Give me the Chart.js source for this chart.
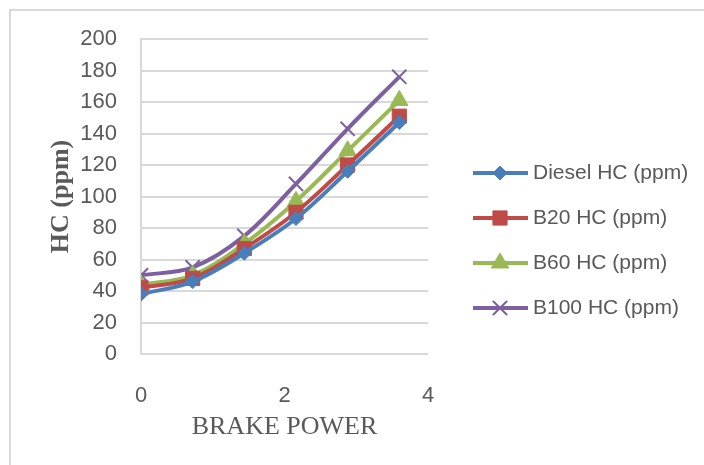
<!DOCTYPE html>
<html>
<head>
<meta charset="utf-8">
<script src="https://cdn.jsdelivr.net/npm/chart.js@4/dist/chart.umd.min.js"></script>
<style>
  html, body { margin: 0; padding: 0; background: #fff; }
  .wrap { position: relative; width: 704px; height: 465px; }
  .frame { position: absolute; left: 9px; top: 9px; right: -10px; bottom: -10px;
           border-left: 2px solid #d9d9d9; border-top: 2px solid #d9d9d9; }
  canvas { position: absolute; left: 0; top: 0; }
</style>
</head>
<body>
<div class="wrap">
  <div class="frame"></div>
  <canvas id="chart" width="704" height="465"></canvas>
</div>
<script>
const brakePower = [0, 0.72, 1.44, 2.16, 2.88, 3.6];
const dieselHC = [38, 46, 64, 86, 116, 147];
const b20HC = [42, 48, 67, 90, 120, 151];
const b60HC = [44, 50, 70, 97, 129, 161];
const b100HC = [50, 55, 75, 108, 143, 176];

const xTicks = [0, 2, 4];
const yMax = 200;

const gray = "#595959";
const tickFont = { family: "'Liberation Sans', Arial, sans-serif", size: 22 };

const seriesDefs = [
  { label: "Diesel HC (ppm)", data: dieselHC, color: "#4a7ebb", point: "rectRot", radius: 7 },
  { label: "B20 HC (ppm)", data: b20HC, color: "#be4b48", point: "rect", radius: 10 },
  { label: "B60 HC (ppm)", data: b60HC, color: "#98b954", point: "triangle", radius: 10 },
  { label: "B100 HC (ppm)", data: b100HC, color: "#7d60a0", point: "crossRot", radius: 10 }
];

const datasets = seriesDefs.map(s => ({
  label: s.label,
  data: s.data.map((v, i) => ({ x: brakePower[i], y: v })),
  borderColor: s.color,
  backgroundColor: s.color,
  borderWidth: 4,
  tension: 0.35,
  pointStyle: s.point,
  pointRadius: s.radius,
  pointBorderWidth: s.point === "crossRot" ? 2 : 1,
  pointBackgroundColor: s.color,
  pointBorderColor: s.color
}));

// legend drawn by hand: line with marker in the middle, like the office chart
const sideLegend = {
  id: "sideLegend",
  afterDraw(chart) {
    const { ctx, chartArea } = chart;
    const x0 = chartArea.right + 45;
    const y0 = chartArea.top + 134;
    ctx.save();
    seriesDefs.forEach((s, i) => {
      const y = y0 + i * 45;
      ctx.strokeStyle = s.color;
      ctx.lineWidth = 4;
      ctx.beginPath();
      ctx.moveTo(x0, y);
      ctx.lineTo(x0 + 55, y);
      ctx.stroke();
      ctx.fillStyle = s.color;
      ctx.lineWidth = s.point === "crossRot" ? 2 : 1;
      Chart.helpers.drawPoint(ctx, { pointStyle: s.point, radius: s.radius, rotation: 0, borderWidth: ctx.lineWidth }, x0 + 27, y);
      ctx.fillStyle = gray;
      ctx.font = "21px 'Liberation Sans', Arial, sans-serif";
      ctx.textBaseline = "middle";
      ctx.fillText(s.label, x0 + 60, y);
    });
    ctx.restore();
  }
};

new Chart(document.getElementById("chart"), {
  type: "line",
  data: { datasets },
  options: {
    responsive: false,
    animation: false,
    layout: { padding: { left: 0, top: 39, right: 276, bottom: 0 } },
    plugins: {
      legend: { display: false },
      tooltip: { enabled: false }
    },
    scales: {
      x: {
        type: "linear",
        min: 0,
        max: 4,
        afterBuildTicks: scale => { scale.ticks = xTicks.map(v => ({ value: v })); },
        afterFit: scale => { scale.height = 111; },
        grid: { display: false, drawTicks: false },
        border: { display: false },
        ticks: { color: gray, font: tickFont, padding: 29 },
        title: {
          display: true,
          text: "BRAKE POWER",
          color: gray,
          font: { family: "'Liberation Serif', 'Times New Roman', serif", size: 26 },
          padding: { top: 0, bottom: 22 }
        }
      },
      y: {
        min: 0,
        max: yMax,
        afterFit: scale => { scale.width = 141; },
        grid: { color: "#d9d9d9", lineWidth: 2, drawTicks: false },
        border: { display: true, color: "#d9d9d9", width: 2 },
        ticks: { stepSize: 20, color: gray, font: tickFont, padding: 24 },
        title: {
          display: true,
          text: "HC (ppm)",
          color: gray,
          font: { family: "'Liberation Serif', 'Times New Roman', serif", size: 26, weight: "bold" },
          padding: { top: 46, bottom: 0 }
        }
      }
    }
  },
  plugins: [sideLegend]
});
</script>
</body>
</html>
